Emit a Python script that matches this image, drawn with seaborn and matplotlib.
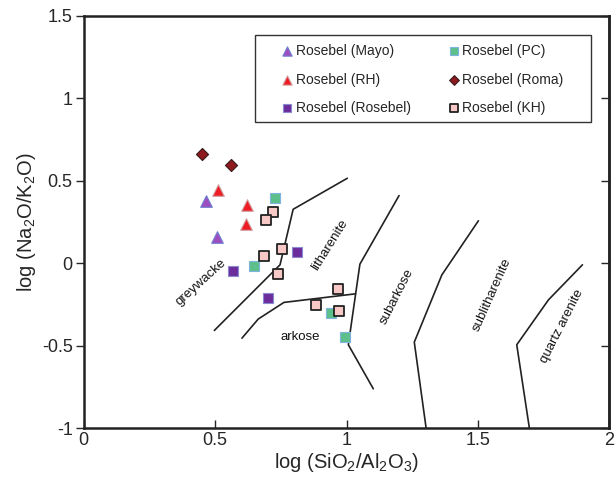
import pandas as pd
import matplotlib
matplotlib.use("Agg")
import matplotlib.pyplot as plt
from matplotlib.patches import Rectangle
import seaborn as sns

# --- Configuration ---
sns.set_theme(style="white")
plt.rcParams['font.family'] = ['Liberation Sans', 'DejaVu Sans']
plt.rcParams['mathtext.default'] = 'regular'

# --- Sample data ---
mayo_x = [0.465, 0.508]
mayo_y = [0.38, 0.158]
rh_x = [0.512, 0.62, 0.617]
rh_y = [0.442, 0.35, 0.24]
rosebel_x = [0.569, 0.810, 0.703]
rosebel_y = [-0.048, 0.065, -0.214]
pc_x = [0.729, 0.648, 0.942, 0.993]
pc_y = [0.398, -0.018, -0.30, -0.447]
roma_x = [0.451, 0.560]
roma_y = [0.662, 0.596]
kh_x = [0.721, 0.693, 0.756, 0.687, 0.739, 0.968, 0.884, 0.971]
kh_y = [0.311, 0.263, 0.083, 0.046, -0.065, -0.158, -0.255, -0.289]

# --- Classification field boundaries ---
b_grey_x = [0.497, 0.747, 0.797, 1.003]
b_grey_y = [-0.408, -0.01, 0.327, 0.515]
b_ark_x = [0.602, 0.664, 0.762, 1.034]
b_ark_y = [-0.455, -0.339, -0.238, -0.186]
b_sub_x = [1.2, 1.051, 1.007, 1.102]
b_sub_y = [0.41, -0.006, -0.495, -0.762]
b_sublith_x = [1.502, 1.363, 1.258, 1.303]
b_sublith_y = [0.257, -0.071, -0.479, -1.0]
b_qtz_x = [1.898, 1.769, 1.648, 1.696]
b_qtz_y = [-0.01, -0.222, -0.495, -1.0]

field_names = ['greywacke', 'litharenite', 'arkose', 'subarkose', 'sublitharenite', 'quartz arenite']
field_x = [0.448, 0.937, 0.823, 1.191, 1.553, 1.82]
field_y = [-0.115, 0.11, -0.448, -0.2, -0.19, -0.38]
field_rot = [42, 58, 0, 63, 66, 63]

groups = [
    ('Rosebel (Mayo)', mayo_x, mayo_y, '^', '#9d4dbf', '#6f7fd0', 70),
    ('Rosebel (RH)', rh_x, rh_y, '^', '#ee1c25', '#d0a0a0', 70),
    ('Rosebel (Rosebel)', rosebel_x, rosebel_y, 's', '#6b2d9c', '#8a8ad0', 45),
    ('Rosebel (PC)', pc_x, pc_y, 's', '#5dc08a', '#7fb4e0', 45),
    ('Rosebel (Roma)', roma_x, roma_y, 'D', '#8c1a1f', '#3a1a1a', 38),
    ('Rosebel (KH)', kh_x, kh_y, 's', '#f8c8c6', '#222222', 60),
]

fig = plt.figure(figsize=(6.16, 4.82), dpi=100)
ax = fig.add_axes([0.136, 0.112, 0.853, 0.855])

# boundaries
bounds = []
for i, (bx, by) in enumerate([(b_grey_x, b_grey_y), (b_ark_x, b_ark_y), (b_sub_x, b_sub_y),
                               (b_sublith_x, b_sublith_y), (b_qtz_x, b_qtz_y)]):
    bounds.append(pd.DataFrame({'x': bx, 'y': by, 'seg': i}))
bdf = pd.concat(bounds, ignore_index=True)
sns.lineplot(data=bdf, x='x', y='y', units='seg', estimator=None, sort=False,
             color='#222222', linewidth=1.2, ax=ax, legend=False)

# samples
for name, gx, gy, mk, fc, ec, s in groups:
    lw = 1.3 if name == 'Rosebel (KH)' else 0.8
    sns.scatterplot(x=gx, y=gy, marker=mk, color=fc, edgecolor=ec, linewidth=lw,
                    s=s, ax=ax, label=name, zorder=3)

for name, tx, ty, rot in zip(field_names, field_x, field_y, field_rot):
    ax.text(tx, ty, name, rotation=rot, ha='center', va='center', fontsize=9.5,
            color='#111111')

ax.set_xlim(0, 2)
ax.set_ylim(-1, 1.5)
ax.set_xticks([0, 0.5, 1, 1.5, 2])
ax.set_xticklabels(['0', '0.5', '1', '1.5', '2'])
ax.set_yticks([-1, -0.5, 0, 0.5, 1, 1.5])
ax.set_yticklabels(['-1', '-0.5', '0', '0.5', '1', '1.5'])
ax.tick_params(axis='x', direction='in', length=6, width=1, labelsize=13, pad=3, bottom=True)
ax.tick_params(axis='y', direction='out', length=6, width=1, labelsize=13, pad=2, left=True)
sec = ax.secondary_yaxis('right')
sec.set_yticks([-1, -0.5, 0, 0.5, 1, 1.5])
sec.tick_params(direction='in', length=6, width=1, labelright=False)
for sp in ax.spines.values():
    sp.set_linewidth(1.8)
    sp.set_color('#222222')
sec.spines['right'].set_linewidth(1.8)

ax.set_xlabel(r'log (SiO$_2$/Al$_2$O$_3$)', fontsize=14.5, labelpad=1)
ax.set_ylabel(r'log (Na$_2$O/K$_2$O)', fontsize=14.5, labelpad=3)

# legend frame drawn separately so its padding matches the original
ax.add_patch(Rectangle((0.326, 0.743), 0.64, 0.211, transform=ax.transAxes,
                       fill=True, facecolor='white', edgecolor='#333333',
                       linewidth=1.0, zorder=4))
leg = ax.legend(ncol=2, loc='upper left', bbox_to_anchor=(0.378, 0.932), fontsize=10,
                frameon=False, handlelength=0.7, handletextpad=0.25, columnspacing=2.75,
                labelspacing=1.05, borderpad=0, markerscale=0.8, borderaxespad=0)
leg.set_zorder(5)

fig.savefig('out.png', dpi=100)
